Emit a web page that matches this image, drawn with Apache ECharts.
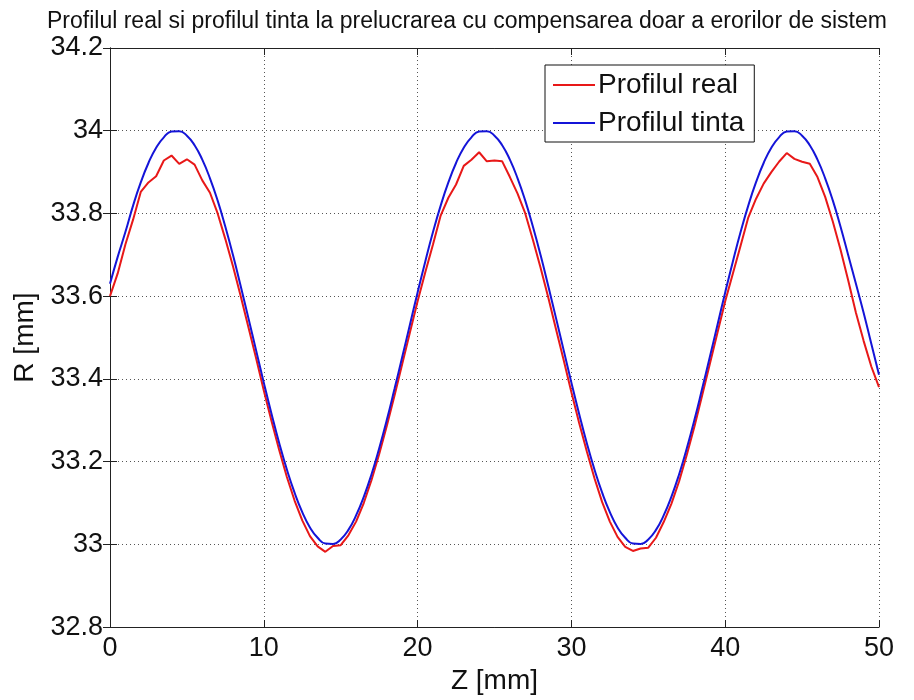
<!DOCTYPE html>
<html>
<head>
<meta charset="utf-8">
<script src="https://cdn.jsdelivr.net/npm/echarts@6/dist/echarts.min.js"></script>
<style>
html,body{margin:0;padding:0;background:#fff;}
#chart{width:914px;height:700px;}
</style>
</head>
<body>
<div id="chart"></div>
<script>
// ---- data ----
var titleText = 'Profilul real si profilul tinta la prelucrarea cu compensarea doar a erorilor de sistem';
var seriesNames = ['Profilul real', 'Profilul tinta'];
var xTicks = [0, 10, 20, 30, 40, 50];
var yTicks = [32.8, 33, 33.2, 33.4, 33.6, 33.8, 34, 34.2];

// Z positions (mm), shared by both profiles
var zVals = [0,0.5,1,1.5,2,2.5,3,3.5,4,4.5,5,5.5,6,6.5,7,7.5,8,8.5,9,9.5,
             10,10.5,11,11.5,12,12.5,13,13.5,14,14.5,15,15.5,16,16.5,17,17.5,18,18.5,19,19.5,
             20,20.5,21,21.5,22,22.5,23,23.5,24,24.5,25,25.5,26,26.5,27,27.5,28,28.5,29,29.5,
             30,30.5,31,31.5,32,32.5,33,33.5,34,34.5,35,35.5,36,36.5,37,37.5,38,38.5,39,39.5,
             40,40.5,41,41.5,42,42.5,43,43.5,44,44.5,45,45.5,46,46.5,47,47.5,48,48.5,49,49.5,50];

// Profilul tinta (target)
var rTarget = [33.630,33.695,33.755,33.819,33.875,33.922,33.959,33.984,33.998,33.999,
               33.988,33.965,33.930,33.885,33.831,33.768,33.699,33.624,33.547,33.469,
               33.391,33.316,33.245,33.181,33.125,33.078,33.041,33.016,33.002,33.001,
               33.012,33.035,33.070,33.115,33.169,33.232,33.301,33.376,33.453,33.531,
               33.609,33.684,33.755,33.819,33.875,33.922,33.959,33.984,33.998,33.999,
               33.988,33.965,33.930,33.885,33.831,33.768,33.699,33.624,33.547,33.469,
               33.391,33.316,33.245,33.181,33.125,33.078,33.041,33.016,33.002,33.001,
               33.012,33.035,33.070,33.115,33.169,33.232,33.301,33.376,33.453,33.531,
               33.609,33.684,33.755,33.819,33.875,33.922,33.959,33.984,33.998,33.999,
               33.988,33.965,33.930,33.885,33.831,33.768,33.699,33.630,33.560,33.485,
               33.410];

// Profilul real (measured)
var rReal = [33.600,33.655,33.725,33.785,33.852,33.875,33.890,33.928,33.940,33.920,
             33.931,33.918,33.880,33.850,33.800,33.738,33.672,33.600,33.525,33.450,
             33.372,33.298,33.228,33.163,33.106,33.058,33.020,32.995,32.982,32.996,
             32.998,33.022,33.055,33.100,33.155,33.218,33.287,33.360,33.436,33.512,
             33.588,33.658,33.725,33.795,33.838,33.870,33.915,33.930,33.948,33.926,
             33.928,33.926,33.888,33.848,33.800,33.736,33.668,33.596,33.520,33.445,
             33.368,33.294,33.225,33.160,33.102,33.055,33.018,32.994,32.984,32.990,
             32.992,33.016,33.054,33.098,33.152,33.216,33.285,33.360,33.436,33.512,
             33.588,33.655,33.722,33.790,33.835,33.872,33.900,33.925,33.946,33.932,
             33.925,33.920,33.888,33.840,33.780,33.712,33.638,33.560,33.492,33.430,
             33.380];

function zip(a, b) { return a.map(function (v, i) { return [v, b[i]]; }); }

var FONT = 'Liberation Sans, Arial, sans-serif';
var chart = echarts.init(document.getElementById('chart'), null, {renderer: 'canvas'});

var gridLine = {show: true, lineStyle: {color: '#555', width: 1, type: [1, 3]}};
var axisLine = {show: true, lineStyle: {color: '#222', width: 1}};
var tickIn = {show: true, inside: true, length: 7, lineStyle: {color: '#222', width: 1}};

chart.setOption({
  animation: false,
  backgroundColor: '#fff',
  title: {
    text: titleText,
    left: 42, top: 5,
    textStyle: {fontFamily: FONT, fontSize: 23, fontWeight: 'normal', color: '#111'}
  },
  legend: {
    data: seriesNames,
    orient: 'vertical',
    left: 545, top: 65,
    padding: [5, 10, 4, 8],
    itemGap: 8,
    itemWidth: 42,
    itemHeight: 2,
    icon: 'rect',
    backgroundColor: '#fff',
    borderColor: '#111',
    borderWidth: 1,
    borderRadius: 0,
    textStyle: {fontFamily: FONT, fontSize: 28, color: '#111', padding: [0, 0, 0, -2], lineHeight: 30}
  },
  grid: {left: 110, right: 35, top: 48, bottom: 72, containLabel: false},
  xAxis: [{
    type: 'value', min: 0, max: 50, interval: 10,
    name: 'Z [mm]', nameLocation: 'middle', nameGap: 38,
    nameTextStyle: {fontFamily: FONT, fontSize: 28, color: '#111'},
    axisLine: axisLine, axisTick: tickIn, splitLine: gridLine,
    axisLabel: {fontFamily: FONT, fontSize: 27, color: '#111', margin: 8}
  }, {
    type: 'value', min: 0, max: 50, interval: 10, position: 'top',
    axisLine: axisLine, axisTick: tickIn, splitLine: {show: false},
    axisLabel: {show: false}
  }],
  yAxis: [{
    type: 'value', min: 32.8, max: 34.2, interval: 0.2,
    name: 'R [mm]', nameLocation: 'middle', nameGap: 52,
    nameTextStyle: {fontFamily: FONT, fontSize: 28, color: '#111'},
    axisLine: axisLine, axisTick: tickIn, splitLine: gridLine,
    axisLabel: {fontFamily: FONT, fontSize: 27, color: '#111', margin: 7,
      formatter: function (v) { return String(+(+v).toFixed(1)); }}
  }, {
    type: 'value', min: 32.8, max: 34.2, interval: 0.2, position: 'right',
    axisLine: axisLine, axisTick: tickIn, splitLine: {show: false},
    axisLabel: {show: false}
  }],
  series: [{
    name: seriesNames[0], type: 'line', symbol: 'none', smooth: false,
    data: zip(zVals, rReal),
    lineStyle: {color: '#e81818', width: 2},
    itemStyle: {color: '#e81818'},
    z: 2
  }, {
    name: seriesNames[1], type: 'line', symbol: 'none', smooth: 0.5,
    data: zip(zVals, rTarget),
    lineStyle: {color: '#1414d8', width: 2},
    itemStyle: {color: '#1414d8'},
    z: 3
  }]
});
</script>
</body>
</html>
